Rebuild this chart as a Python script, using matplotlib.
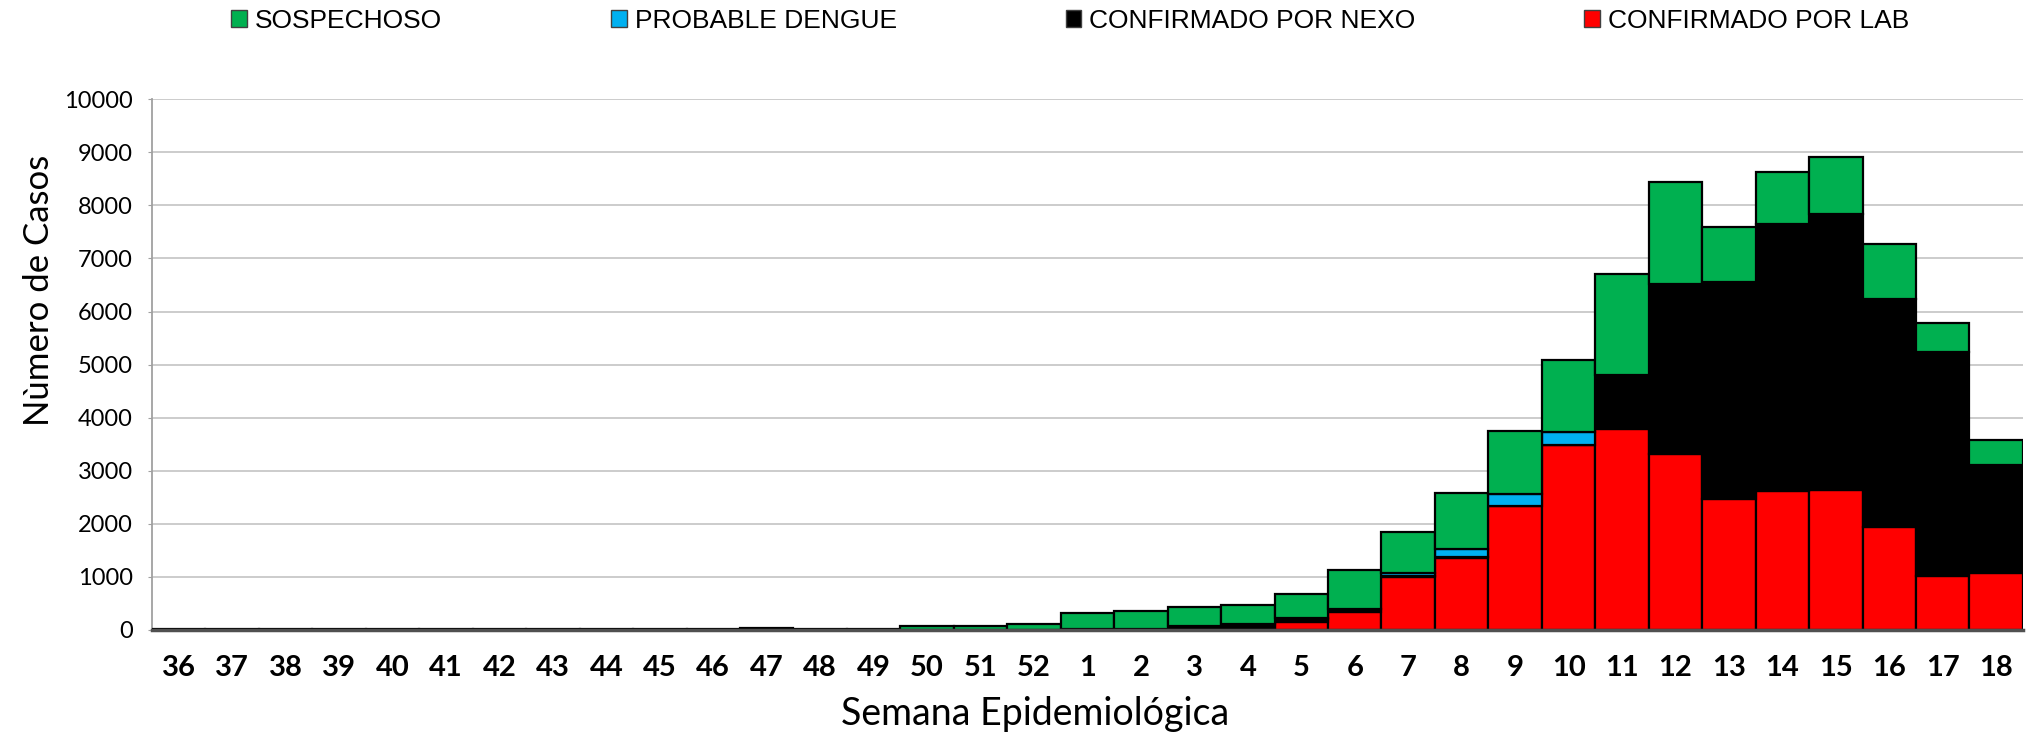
import matplotlib
matplotlib.use('Agg')
import matplotlib.pyplot as plt
import numpy as np
from matplotlib.patches import Patch

# Semana epidemiologica labels
weeks = [str(w) for w in range(36, 53)] + [str(w) for w in range(1, 19)]

# Values (stack order: lab, nexo, probable, sospechoso)
lab = [0, 0, 0, 0, 0, 0, 0, 0, 0, 0, 0, 0, 0, 0, 0, 0, 5,
       10, 15, 20, 44, 140, 340, 990, 1350, 2325, 3475, 3790, 3310, 2460, 2620, 2630, 1945, 1015, 1065]
nexo = [0, 0, 0, 0, 0, 0, 0, 0, 0, 0, 0, 0, 0, 0, 0, 0, 0,
        5, 10, 56, 63, 70, 50, 20, 15, 10, 15, 1000, 3215, 4105, 5025, 5210, 4295, 4220, 2040]
probable = [0, 0, 0, 0, 0, 0, 0, 0, 0, 0, 0, 0, 0, 0, 0, 0, 0,
            0, 0, 0, 0, 6, 10, 60, 165, 230, 240, 5, 0, 0, 0, 0, 0, 0, 0]
sospechoso = [20, 20, 20, 20, 20, 20, 20, 20, 20, 20, 25, 35, 25, 25, 70, 70, 102,
              294, 322, 353, 360, 456, 719, 775, 1040, 1175, 1365, 1910, 1910, 1020, 990, 1075, 1025, 545, 475]

c_lab = '#FF0000'
c_nexo = '#000000'
c_prob = '#00B0F0'
c_sosp = '#00B050'

fig = plt.figure(figsize=(20.27, 7.41), dpi=100)
ax = fig.add_axes([0.075, 0.150, 0.923, 0.716])

x = np.arange(len(weeks))
lab = np.array(lab)
nexo = np.array(nexo)
probable = np.array(probable)
sospechoso = np.array(sospechoso)

bar_kw = dict(width=1.0, edgecolor='black', linewidth=1.6, zorder=3)
ax.bar(x, lab, color=c_lab, **bar_kw)
ax.bar(x, nexo, bottom=lab, color=c_nexo, **bar_kw)
ax.bar(x, probable, bottom=lab + nexo, color=c_prob, **bar_kw)
ax.bar(x, sospechoso, bottom=lab + nexo + probable, color=c_sosp, **bar_kw)

ax.set_xlim(-0.5, len(weeks) - 0.5)
ax.set_ylim(0, 10000)
ax.set_yticks(np.arange(0, 10001, 1000))
ax.set_yticklabels([str(v) for v in range(0, 10001, 1000)], fontsize=17, family='Lato')
ax.set_xticks(x)
ax.set_xticklabels(weeks, fontsize=21, fontweight='bold', family='Lato')
ax.tick_params(axis='x', length=0, pad=18)
ax.tick_params(axis='y', length=3, color='#A0A0A0', pad=11)

ax.grid(axis='y', color='#C8C8C8', linewidth=1.3, zorder=0)
ax.set_axisbelow(True)

for s in ['top', 'right']:
    ax.spines[s].set_visible(False)
ax.spines['left'].set_color('#A0A0A0')
ax.spines['left'].set_linewidth(1.3)
ax.spines['bottom'].set_color('#505050')
ax.spines['bottom'].set_linewidth(2.5)
ax.spines['bottom'].set_zorder(4)

ax.set_ylabel('Nùmero de Casos', fontsize=25, family='Lato')
ax.yaxis.set_label_coords(-0.052, 0.64)
ax.set_xlabel('Semana Epidemiológica', fontsize=27, family='Lato')
ax.xaxis.set_label_coords(0.472, -0.125)

handles = [
    Patch(facecolor=c_sosp, edgecolor='#404040', label='SOSPECHOSO'),
    Patch(facecolor=c_prob, edgecolor='#404040', label='PROBABLE DENGUE'),
    Patch(facecolor=c_nexo, edgecolor='#404040', label='CONFIRMADO POR NEXO'),
    Patch(facecolor=c_lab, edgecolor='#404040', label='CONFIRMADO POR LAB'),
]
fig.legend(handles=handles, loc='center', bbox_to_anchor=(0.528, 0.972), ncol=4,
           frameon=False, prop={'family': 'Liberation Sans', 'size': 19},
           handlelength=0.6, handleheight=0.6, handletextpad=0.3, columnspacing=6.4)

fig.savefig('out.png', dpi=100)
